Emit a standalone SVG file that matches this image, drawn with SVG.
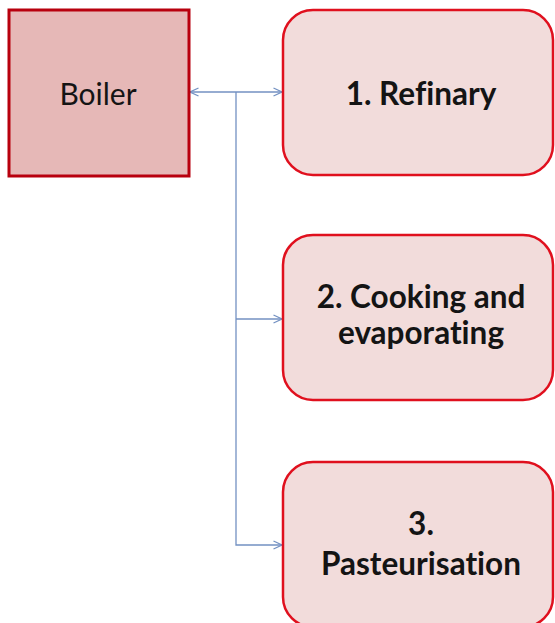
<svg xmlns="http://www.w3.org/2000/svg" width="555" height="623" viewBox="0 0 555 623">
<style>
.proc{fill:#f2dcdb;stroke:#e0101e;stroke-width:2.5}
.lbl{font-family:Lato,"Open Sans","Liberation Sans",sans-serif;font-weight:bold;font-size:31.5px;fill:#141414;text-anchor:middle;font-variant-ligatures:none}
.conn{fill:none;stroke:#7391c2;stroke-width:1.3}
</style>
<defs>
<marker id="arr" viewBox="0 0 10 10" refX="9.5" refY="5" markerWidth="10" markerHeight="10" markerUnits="userSpaceOnUse" orient="auto-start-reverse">
<path d="M1,1 L9.5,5 L1,9" fill="none" stroke="#7391c2" stroke-width="1.3"/>
</marker>
</defs>
<rect width="555" height="623" fill="#ffffff"/>
<g id="connectors">
<line class="conn" x1="190" y1="92" x2="282" y2="92" marker-start="url(#arr)" marker-end="url(#arr)"/>
<path class="conn" d="M236,92 V545 H282" marker-end="url(#arr)"/>
<line class="conn" x1="236" y1="319" x2="282" y2="319" marker-end="url(#arr)"/>
</g>
<g id="boiler">
<rect x="9" y="10" width="180" height="166" fill="#e6b8b7" stroke="#b8000e" stroke-width="3"/>
<text x="98" y="105" font-family="Lato,'Open Sans','Liberation Sans',sans-serif" font-size="30" fill="#141414" text-anchor="middle">Boiler</text>
</g>
<g id="refinary">
<rect class="proc" x="283" y="10" width="270" height="165" rx="30"/>
<text class="lbl" x="421" y="105">1. Refinary</text>
</g>
<g id="cooking">
<rect class="proc" x="283" y="235" width="270" height="165" rx="30"/>
<text class="lbl" x="421" y="308">2. Cooking and</text>
<text class="lbl" x="421" y="344">evaporating</text>
</g>
<g id="pasteurisation">
<rect class="proc" x="283" y="462" width="270" height="165" rx="30"/>
<text class="lbl" x="421" y="535">3.</text>
<text class="lbl" x="421" y="575">Pasteurisation</text>
</g>
</svg>
